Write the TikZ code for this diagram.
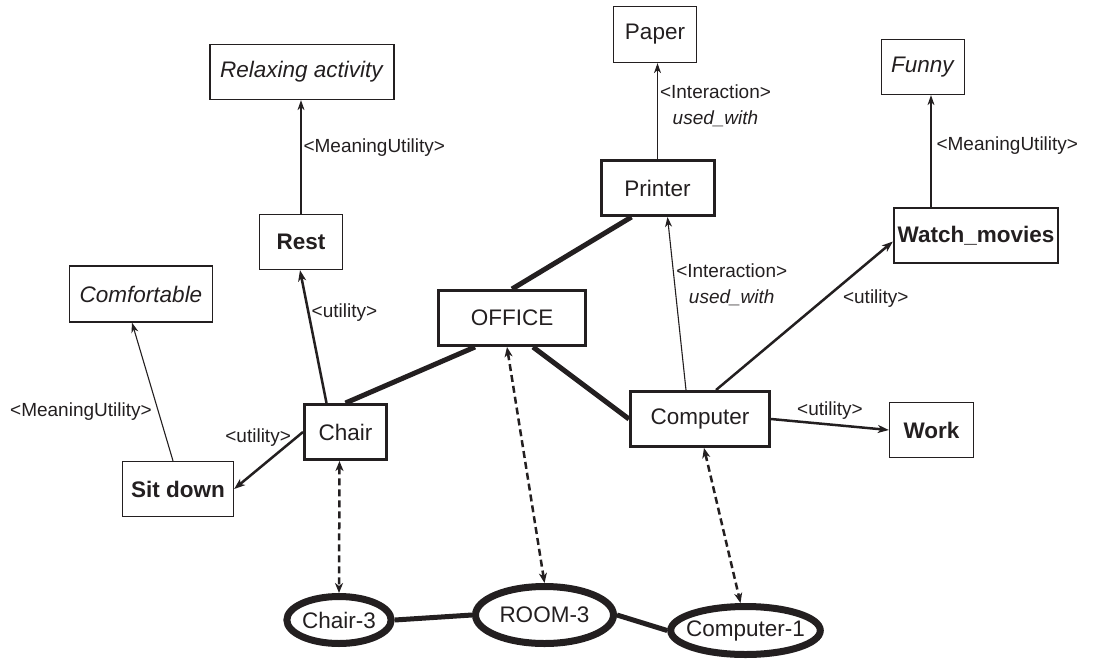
\documentclass[tikz,border=0pt]{standalone}
\usepackage{fontspec}
\setmainfont{Liberation Sans}
\usetikzlibrary{shapes.geometric,arrows.meta}
\definecolor{ink}{HTML}{231F20}

\begin{document}
\begin{tikzpicture}[x=1pt, y=-1pt, color=ink,
    concept/.style={draw, rectangle, line width=1.3pt, minimum height=55pt, inner sep=0pt, font=\fontsize{22.5}{26}\selectfont},
    keybox/.style={concept, line width=3pt},
    instance/.style={draw, ellipse, line width=7pt, inner sep=0pt, font=\fontsize{22.5}{26}\selectfont},
    rel/.style={font=\fontsize{19}{26}\selectfont, inner sep=2pt},
    link/.style={line width=5pt},
    meaning/.style={-{Stealth[length=10pt, width=7pt, inset=3pt]}, line width=1.1pt},
    useful/.style={-{Stealth[length=11pt, width=8pt, inset=3pt]}, line width=2.5pt},
    mapping/.style={{Stealth[length=10pt, width=8pt, inset=3pt]}-{Stealth[length=10pt, width=8pt, inset=3pt]}, line width=2.5pt, dash pattern=on 7pt off 4pt}]
    \useasboundingbox (0,0) rectangle (1117,659);

    % Relaxing activity
    \node[concept, minimum width=184pt] (relax) at (302,72) {\textit{Relaxing activity}};

    % Rest
    \node[concept, minimum width=83pt] (rest) at (301,242) {\textbf{Rest}};

    % Comfortable
    \node[concept, minimum width=143pt, minimum height=56pt] (comfort) at (141,294) {\textit{Comfortable}};

    % OFFICE
    \node[keybox, minimum width=147pt] (office) at (512,318) {OFFICE};

    % Paper
    \node[concept, minimum width=83pt, minimum height=56pt] (paper) at (655,34.5) {Paper};

    % Printer
    \node[keybox, minimum width=113pt] (printer) at (657.5,188) {Printer};

    % Funny
    \node[concept, minimum width=83pt] (funny) at (923,67) {\textit{Funny}};

    % Watch_movies
    \node[concept, line width=2.2pt, minimum width=164pt] (watch) at (976,235.5) {\textbf{Watch\_movies}};

    % Chair
    \node[keybox, minimum width=82pt] (chair) at (345.5,432) {Chair};

    % Sit down
    \node[concept, minimum width=111pt] (sitdown) at (178,489) {\textbf{Sit down}};

    % Computer
    \node[keybox, minimum width=139pt] (computer) at (700,419) {Computer};

    % Work
    \node[concept, minimum width=84pt] (work) at (931.5,430) {\textbf{Work}};

    % Instances
    \node[instance, minimum width=101pt, minimum height=47pt] (chair3) at (339,620) {Chair-3};
    \node[instance, minimum width=138pt, minimum height=57pt] (room3) at (544.5,615) {ROOM-3};
    \node[instance, inner xsep=-6.5pt, minimum width=146pt, minimum height=48pt] (comp1) at (745.5,630.5) {Computer-1};

    % Links
    \draw[link] (office.north) -- ([xshift=-26pt]printer.south);
    \draw[link] ([xshift=-37pt]office.south) -- (chair.north);
    \draw[link] ([xshift=21pt]office.south) -- (computer.west);
    \draw[link] (chair3.east) -- (room3.west);
    \draw[link] (room3.east) -- (comp1.west);

    % Arrows
    \draw[useful] ([xshift=-19pt]chair.north) -- ([xshift=-1pt]rest.south)
        node[rel, pos=0.68, right] {<utility>};
    \draw[meaning] (rest.north) -- (rest.north |- relax.south)
        node[rel, pos=0.58, right] {<MeaningUtility>};
    \draw[useful] (chair.west) -- (sitdown.east)
        node[rel, pos=0.1, left, inner sep=4pt] {<utility>};
    \draw[meaning] ([xshift=-5pt]sitdown.north) -- ([xshift=-9pt]comfort.south)
        node[rel, pos=0.36, left, inner sep=6pt] {<MeaningUtility>};
    \draw[meaning] (printer.north) -- (printer.north |- paper.south)
        node[rel, pos=0.56, right, align=center] {<Interaction>\\\textit{used\_with}};
    \draw[meaning] ([xshift=-14pt]computer.north) -- ([xshift=10pt]printer.south)
        node[rel, pos=0.61, right, align=center, inner sep=1pt] {<Interaction>\\\textit{used\_with}};
    \draw[useful] ([xshift=16pt]computer.north) -- ([yshift=-6pt]watch.west)
        node[rel, pos=0.7, below right] {<utility>};
    \draw[meaning] ([xshift=-45pt]watch.north) -- ([xshift=-45pt]watch.north |- funny.south)
        node[rel, pos=0.55, right, inner sep=5pt] {<MeaningUtility>};
    \draw[useful] (computer.east) -- (work.west)
        node[rel, midway, above, inner sep=4pt] {<utility>};

    % Dashed mappings
    \draw[mapping] ([xshift=-6pt]chair.south) -- (chair3.north);
    \draw[mapping] ([xshift=-5pt]office.south) -- (room3.north);
    \draw[mapping] ([xshift=4pt]computer.south) -- ([xshift=-5pt]comp1.north);
\end{tikzpicture}
\end{document}
